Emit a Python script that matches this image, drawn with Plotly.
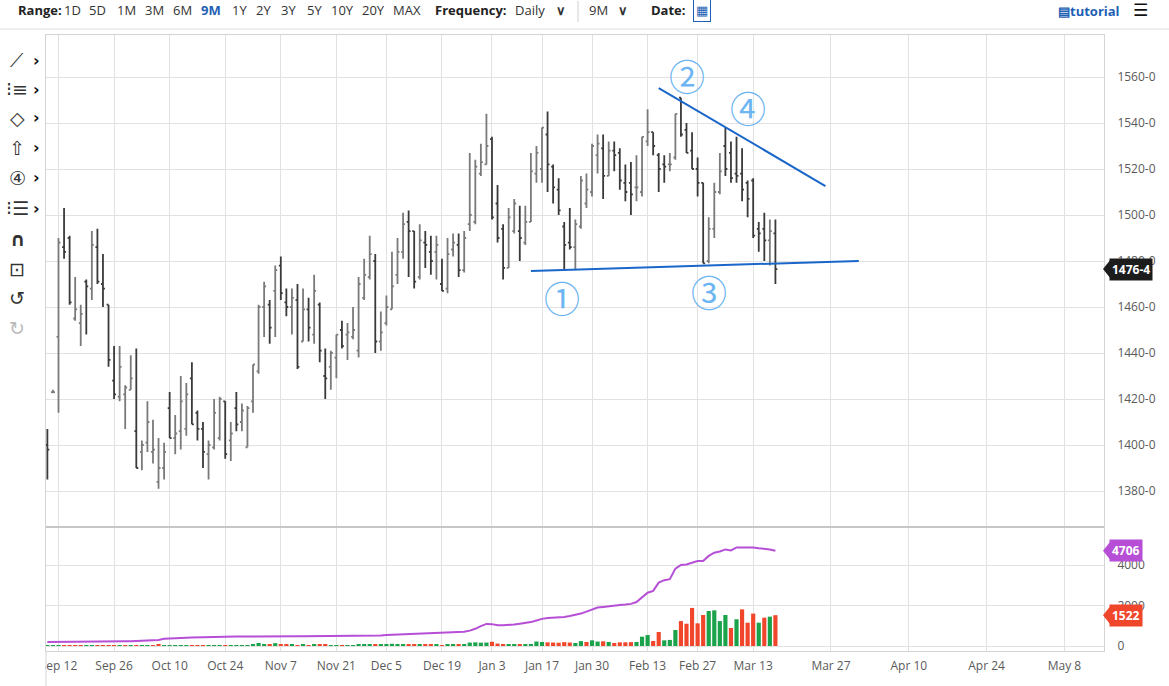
import pandas as pd
import plotly.graph_objects as go
from plotly.subplots import make_subplots

# trading calendar, Sep 8 2022 .. Mar 17 2023
holidays = ["2022-11-24", "2022-12-26", "2023-01-02", "2023-01-16", "2023-02-20"]
dates = pd.bdate_range("2022-09-08", "2023-03-17", freq="C", holidays=holidays)

opens = [
    1400, 1423, 1447, 1486, 1490, 1455, 1453, 1471, 1468, 1486, 1470, 1461, 1428, 1421, 1422, 1424, 1406,
    1397, 1401, 1397, 1384, 1390, 1416, 1403, 1406, 1407, 1429, 1414, 1407, 1396, 1399, 1403, 1419, 1402, 1416, 1410, 1399, 1419,
    1432, 1460, 1461, 1467, 1478, 1462, 1460, 1463, 1445, 1459, 1448, 1461, 1430, 1434, 1438, 1450, 1448, 1447, 1441, 1464, 1473,
    1480, 1445, 1453, 1459, 1474, 1484, 1497, 1493, 1473, 1488, 1484, 1484, 1470, 1468, 1485, 1487, 1476, 1496, 1497, 1518, 1522,
    1533, 1505, 1494, 1477, 1493, 1493, 1488, 1497, 1518, 1520, 1535, 1521, 1511, 1495, 1488, 1486, 1495, 1505, 1510, 1526,
    1529, 1517, 1528, 1527, 1514, 1514, 1512, 1510, 1532, 1536, 1526, 1522, 1522, 1525, 1551, 1537, 1528, 1520, 1514,
    1480, 1494, 1510, 1530, 1527, 1518, 1518, 1514, 1515, 1494, 1494, 1489, 1492,
]
highs = [
    1407, 1424, 1490, 1503, 1491, 1473, 1461, 1472, 1493, 1494, 1483, 1461, 1443, 1443, 1426, 1439, 1442,
    1402, 1419, 1411, 1403, 1401, 1423, 1413, 1430, 1427, 1436, 1415, 1410, 1402, 1420, 1421, 1419, 1410, 1423, 1418, 1417, 1435,
    1461, 1471, 1463, 1478, 1482, 1468, 1468, 1470, 1468, 1464, 1474, 1462, 1442, 1441, 1448, 1454, 1453, 1460, 1473, 1481, 1491,
    1483, 1458, 1465, 1484, 1490, 1501, 1502, 1493, 1496, 1493, 1491, 1491, 1481, 1490, 1492, 1492, 1493, 1527, 1524, 1531, 1544,
    1534, 1513, 1496, 1503, 1507, 1504, 1504, 1527, 1530, 1538, 1545, 1522, 1516, 1497, 1503, 1498, 1517, 1518, 1531, 1535,
    1535, 1532, 1532, 1529, 1522, 1523, 1526, 1534, 1546, 1536, 1527, 1526, 1527, 1544, 1551, 1540, 1536, 1525, 1514,
    1499, 1514, 1527, 1538, 1532, 1534, 1529, 1515, 1516, 1497, 1501, 1498, 1498,
]
lows = [
    1385, 1422.5, 1414, 1481, 1461, 1454, 1443, 1448, 1463, 1470, 1460, 1434, 1420, 1419, 1407, 1424, 1390,
    1389, 1397, 1392, 1381, 1385, 1403, 1396, 1398, 1404, 1409, 1402, 1390, 1385, 1398, 1402, 1394, 1393, 1406, 1406, 1399, 1414,
    1431, 1447, 1444, 1447, 1463, 1456, 1448, 1433, 1445, 1445, 1444, 1436, 1420, 1424, 1429, 1442, 1437, 1446, 1438, 1463, 1472,
    1440, 1441, 1452, 1459, 1470, 1481, 1473, 1468, 1472, 1477, 1474, 1472, 1467, 1466, 1482, 1473, 1475, 1493, 1496, 1517, 1522,
    1498, 1488, 1472, 1477, 1492, 1480, 1487, 1497, 1514, 1514, 1510, 1505, 1500, 1476, 1485, 1476, 1494, 1503, 1508, 1518,
    1507, 1517, 1519, 1511, 1506, 1500, 1506, 1508, 1530, 1526, 1510, 1514, 1519, 1524, 1534, 1527, 1520, 1508, 1479,
    1479, 1490, 1509, 1517, 1514, 1514, 1506, 1499, 1490, 1484, 1480, 1478, 1470,
]
closes = [
    1398, 1423, 1488, 1484, 1462, 1459, 1457, 1469, 1487, 1471, 1468, 1437, 1422, 1434, 1425, 1429, 1390,
    1400, 1410, 1398, 1390, 1397, 1403, 1405, 1419, 1422, 1409, 1407, 1397, 1400, 1414, 1420, 1396, 1405, 1409, 1415, 1416, 1435,
    1460, 1469, 1451, 1476, 1466, 1460, 1464, 1434, 1459, 1451, 1467, 1441, 1429, 1440, 1448, 1443, 1449, 1450, 1470, 1474, 1483,
    1445, 1449, 1460, 1469, 1484, 1496, 1493, 1471, 1489, 1487, 1480, 1487, 1467, 1483, 1488, 1476, 1490, 1500, 1521, 1523, 1530,
    1499, 1490, 1477, 1499, 1505, 1490, 1497, 1519, 1527, 1538, 1522, 1512, 1502, 1487, 1486, 1496, 1515, 1511, 1530, 1531,
    1517, 1528, 1526, 1515, 1510, 1509, 1512, 1534, 1536, 1530, 1520, 1521, 1522, 1544, 1535, 1527, 1520, 1514, 1479,
    1494, 1510, 1519, 1520, 1516, 1517, 1511, 1507, 1491, 1492, 1489, 1493, 1476.5,
]
volume = [
    20, 10, 30, 25, 30, 25, 20, 30, 25, 35, 30, 40, 30, 35, 30, 25, 40,
    30, 35, 40, 90, 45, 30, 35, 40, 30, 35, 30, 35, 40, 35, 40, 45, 40, 35, 40, 45, 50,
    150, 90, 60, 140, 50, 60, 90, 40, 50, 45, 60, 50, 55, 45, 40, 45, 40, 30, 90, 60, 80,
    70, 50, 60, 110, 90, 100, 80, 60, 70, 60, 55, 50, 45, 60, 55, 60, 50, 170, 180, 165, 170,
    210, 120, 90, 80, 70, 90, 60, 80, 220, 200, 180, 170, 160, 190, 170, 150, 240, 200, 280, 220,
    230, 200, 150, 180, 180, 190, 200, 460, 540, 250, 690, 280, 300, 790, 1230, 1100, 1880, 1120, 1530,
    1730, 1760, 1230, 1530, 890, 1320, 1810, 1150, 1600, 1150, 1400, 1450, 1522,
]
open_interest = [
    200, 200, 205, 205, 210, 210, 210, 215, 215, 220, 220, 225, 230, 230, 235, 240, 245,
    250, 255, 260, 300, 360, 380, 390, 400, 410, 420, 430, 440, 445, 450, 455, 460, 465, 470, 470, 475, 475,
    478, 480, 480, 482, 482, 483, 484, 485, 485, 486, 487, 488, 488, 489, 490, 490, 492, 493, 495, 500, 505,
    510, 520, 540, 550, 560, 570, 575, 580, 590, 600, 610, 620, 640, 650, 665, 680, 700, 760, 850, 980, 1090,
    1080, 1020, 1030, 1040, 1060, 1100, 1130, 1180, 1260, 1340, 1380, 1390, 1400, 1430, 1480, 1540, 1600, 1700, 1820, 1900,
    1930, 1970, 2010, 2030, 2050, 2080, 2170, 2400, 2630, 2720, 3130, 3250, 3300, 3820, 4000, 4030, 4100, 4200, 4200,
    4450, 4610, 4670, 4770, 4720, 4870, 4880, 4880, 4870, 4830, 4810, 4770, 4706,
]

tick_dates = ["2022-09-12", "2022-09-26", "2022-10-10", "2022-10-24", "2022-11-07", "2022-11-21",
              "2022-12-05", "2022-12-19", "2023-01-03", "2023-01-17", "2023-01-30", "2023-02-13",
              "2023-02-27", "2023-03-13", "2023-03-27", "2023-04-10", "2023-04-24", "2023-05-08"]
tick_labels = ["Sep 12", "Sep 26", "Oct 10", "Oct 24", "Nov 7", "Nov 21", "Dec 5", "Dec 19", "Jan 3",
               "Jan 17", "Jan 30", "Feb 13", "Feb 27", "Mar 13", "Mar 27", "Apr 10", "Apr 24", "May 8"]
price_ticks = [1380, 1400, 1420, 1440, 1460, 1480, 1500, 1520, 1540, 1560]
volume_ticks = [0, 2000, 4000]

# user drawings
support_line = [("2023-01-12", 1475.7), ("2023-04-01", 1480.0)]
resistance_line = [("2023-02-15", 1555.2), ("2023-03-26", 1512.6)]
wave_labels = ["①", "②", "③", "④"]
wave_dates = ["2023-01-20 16:00", "2023-02-23", "2023-03-01", "2023-03-10"]
wave_prices = [1464.3, 1560.9, 1467.0, 1547.0]

last_price_text = "1476-4"

# pixel helpers for page furniture (toolbar etc.)
L, R, T, B = 46, 65, 35, 35
W, H = 1169, 686
def px(x):
    return (x - L) / (W - L - R)
def py(y):
    return (H - B - y) / (H - T - B)

vol_colors = ["#1aa34a" if i == 0 or closes[i] >= closes[i - 1] else "#f0462b"
              for i in range(len(closes))]

all_days = pd.date_range(dates[0], dates[-1])
gaps = all_days.difference(dates).strftime("%Y-%m-%d").tolist()

fig = make_subplots(rows=2, cols=1, shared_xaxes=True, vertical_spacing=0,
                    row_heights=[492, 124])

fig.add_trace(go.Ohlc(
    x=dates, open=opens, high=highs, low=lows, close=closes,
    increasing_line_color="#7a7a7a", decreasing_line_color="#3a3a3a",
    line_width=1.8, tickwidth=0.35, hoverinfo="skip", showlegend=False), row=1, col=1)

fig.add_trace(go.Bar(
    x=dates, y=volume, marker_color=vol_colors, marker_line_width=0,
    hoverinfo="skip", showlegend=False), row=2, col=1)

fig.add_trace(go.Scatter(
    x=dates, y=open_interest, mode="lines", line=dict(color="#b64fd6", width=2),
    hoverinfo="skip", showlegend=False), row=2, col=1)

grid = "#e2e2e2"
axis_font = dict(family="Open Sans", size=12, color="#5a5a5a")

fig.update_xaxes(
    type="date", range=["2022-09-07 18:00", "2023-05-15 03:00"],
    rangebreaks=[dict(values=gaps)], rangeslider_visible=False,
    tickvals=tick_dates, ticktext=tick_labels, ticks="", tickfont=axis_font,
    showgrid=True, gridcolor=grid, gridwidth=1, zeroline=False,
    showline=True, linecolor="#d4d4d4", mirror=True)
fig.update_xaxes(ticklabelstandoff=4, row=2, col=1)

fig.update_yaxes(
    side="right", range=[1364.35, 1578.26], tickvals=price_ticks,
    ticktext=[f"{v}-0" for v in price_ticks], tickfont=axis_font,
    ticks="", ticklabelstandoff=10,
    showgrid=True, gridcolor=grid, zeroline=False,
    showline=True, linecolor="#d4d4d4", mirror=True, row=1, col=1)
fig.update_yaxes(
    side="right", range=[-247, 5877], tickvals=volume_ticks,
    ticktext=[str(v) for v in volume_ticks], tickfont=axis_font,
    ticks="", ticklabelstandoff=10,
    showgrid=True, gridcolor=grid, zeroline=False,
    showline=True, linecolor="#d4d4d4", mirror=True, row=2, col=1)

shapes = []
# trend lines
for seg in (support_line, resistance_line):
    shapes.append(dict(type="line", xref="x", yref="y",
                       x0=seg[0][0], y0=seg[0][1], x1=seg[1][0], y1=seg[1][1],
                       line=dict(color="#1a66c9", width=2), layer="above"))
# panel separator
shapes.append(dict(type="line", xref="paper", yref="paper", x0=0, x1=1,
                   y0=py(527), y1=py(527), line=dict(color="#c6c6c6", width=2)))
# toolbar rule and divider
shapes.append(dict(type="line", xref="paper", yref="paper", x0=px(0), x1=px(1169),
                   y0=py(29), y1=py(29), line=dict(color="#dcdcdc", width=1)))
shapes.append(dict(type="line", xref="paper", yref="paper", x0=px(578), x1=px(578),
                   y0=py(1), y1=py(22), line=dict(color="#d0d0d0", width=1)))
# clip first date label like the reference, and the container edge
shapes.append(dict(type="rect", xref="paper", yref="paper", x0=px(0), x1=px(45.6),
                   y0=py(684), y1=py(653), fillcolor="white", line_width=0, layer="above"))
shapes.append(dict(type="line", xref="paper", yref="paper", x0=0, x1=0,
                   y0=py(686), y1=0, line=dict(color="#d4d4d4", width=1), layer="above"))

annotations = []

def note(x, y, text, size=13, color="#333", family="Open Sans", **kw):
    d = dict(xref="paper", yref="paper", x=px(x), y=py(y), text=text, showarrow=False,
             xanchor="center", yanchor="middle",
             font=dict(family=family, size=size, color=color))
    d.update(kw)
    annotations.append(d)

# value tags on the right axis
tags = [
    (last_price_text, closes[-1], "y", "#1c1c1c", 3.8),
    (str(open_interest[-1]), open_interest[-1], "y2", "#b64fd6", 430),
    (str(volume[-1]), volume[-1], "y2", "#f0462b", 430),
]
for text, val, yref, color, half in tags:
    shapes.append(dict(type="path", xref="paper", yref=yref, layer="above",
                       path=f"M {px(1103)},{val} L {px(1110)},{val + half} "
                            f"L {px(1110)},{val - half} Z",
                       fillcolor=color, line_width=0))
    annotations.append(dict(xref="paper", yref=yref, x=px(1109), y=val,
                            xanchor="left", yanchor="middle",
                            text=f"<b>{text}</b>", showarrow=False, bgcolor=color,
                            borderpad=2, font=dict(family="Open Sans", size=12, color="white")))

# circled wave numbers
for lab, d, p in zip(wave_labels, wave_dates, wave_prices):
    annotations.append(dict(xref="x", yref="y", x=d, y=p, text=lab, showarrow=False,
                            xanchor="center", yanchor="middle",
                            font=dict(family="Noto Sans CJK JP", size=36, color="#6cb5f2")))

# top toolbar
toolbar = [("<b>Range:</b>", 40, "#222"), ("1D", 72, "#333"), ("5D", 97, "#333"),
           ("1M", 126, "#333"), ("3M", 154, "#333"), ("6M", 182, "#333"),
           ("<b>9M</b>", 211, "#1e5fb4"), ("1Y", 239, "#333"), ("2Y", 263, "#333"),
           ("3Y", 288, "#333"), ("5Y", 314, "#333"), ("10Y", 342, "#333"),
           ("20Y", 373, "#333"), ("MAX", 407, "#333"), ("<b>Frequency:</b>", 471, "#222"),
           ("Daily", 530, "#333"), ("<b>∨</b>", 561, "#333"), ("9M", 598, "#333"),
           ("<b>∨</b>", 623, "#333"), ("<b>Date:</b>", 668, "#222")]
for text, x, color in toolbar:
    note(x, 10, text, color=color)
note(702, 10, "▦", color="#1e5fb4", bordercolor="#1e5fb4", borderwidth=1, borderpad=2)
note(1089, 11, "<b>▤tutorial</b>", color="#1e5fb4")
note(1140, 10, "<b>☰</b>", size=17, color="#111", family="DejaVu Sans")

# left drawing toolbar
tools = ["⟋", "⁝≡", "◇", "⇧", "④", "⁝☰", "<b>∩</b>", "⊡", "↺", "↻"]
tool_y = [60, 89, 118, 148, 178, 208, 239, 269, 298, 328]
for i, (t, y) in enumerate(zip(tools, tool_y)):
    note(17, y, t, size=19, family="DejaVu Sans",
         color="#bbbbbb" if i == 9 else "#333")
    if i < 6:
        note(36, y, "<b>›</b>", size=16, family="DejaVu Sans", color="#111")

fig.update_layout(
    width=W, height=H, margin=dict(l=L, r=R, t=T, b=B),
    paper_bgcolor="white", plot_bgcolor="white", showlegend=False,
    font=dict(family="Open Sans"), bargap=0.25,
    shapes=shapes, annotations=annotations, hovermode=False)

fig.write_html("out.html", config={"displayModeBar": False},
               post_script="document.body.style.margin='0';")
